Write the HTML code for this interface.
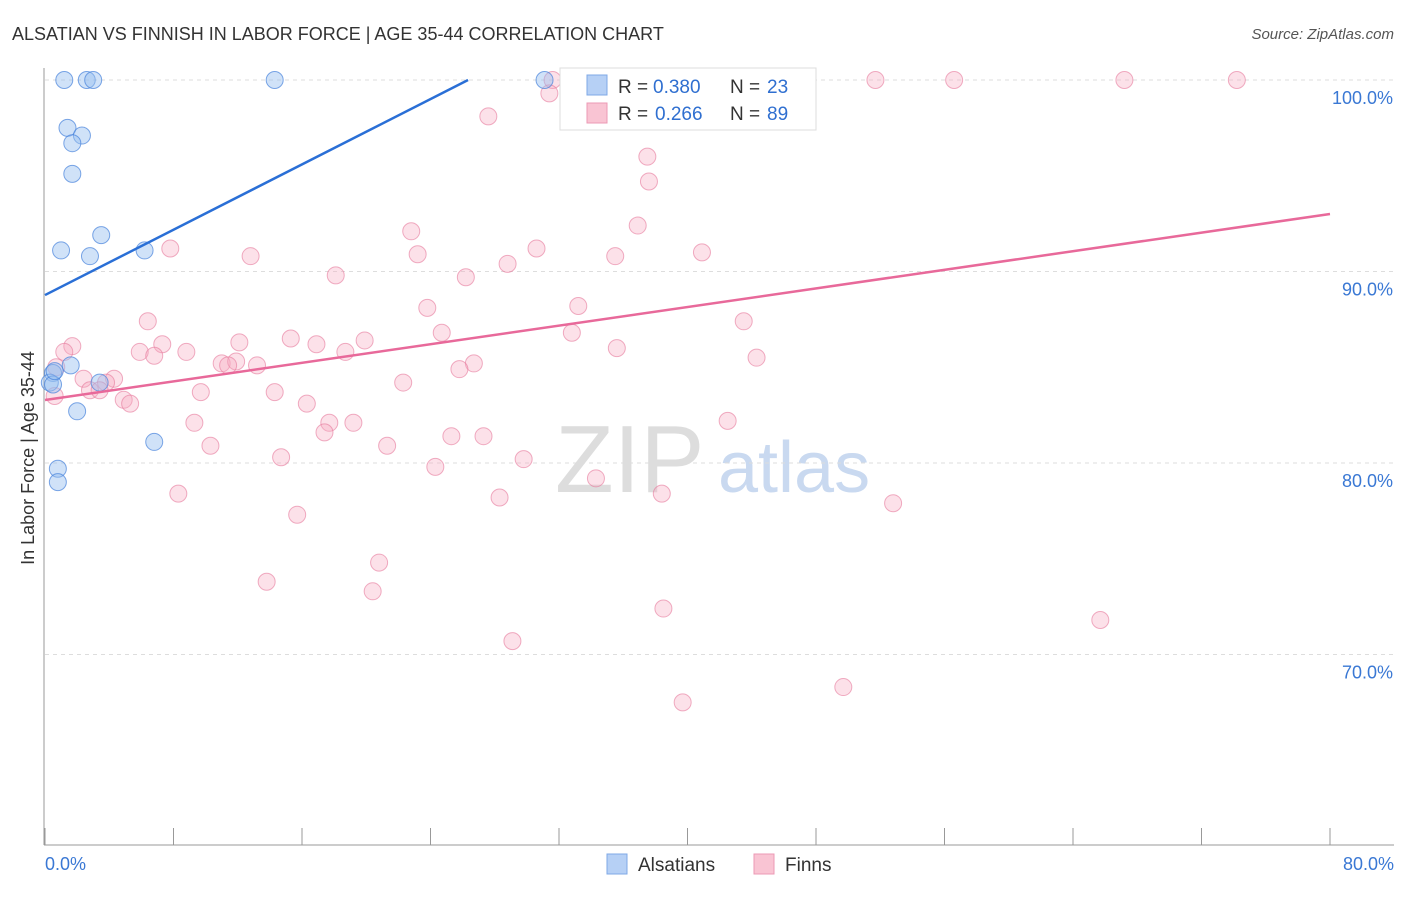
<!DOCTYPE html>
<html><head><meta charset="utf-8"><style>
body{margin:0;background:#fff;font-family:"Liberation Sans",sans-serif}
svg text{font-family:"Liberation Sans",sans-serif}
</style></head><body>
<svg id="c" width="1406" height="892">
<text x="12" y="40" font-size="18" fill="#333">ALSATIAN VS FINNISH IN LABOR FORCE | AGE 35-44 CORRELATION CHART</text>
<text x="1394" y="39" font-size="15" fill="#555" font-style="italic" text-anchor="end">Source: ZipAtlas.com</text>
<text x="34" y="458" font-size="18" fill="#333" text-anchor="middle" transform="rotate(-90 34 458)">In Labor Force | Age 35-44</text>
<text x="555" y="492" font-size="96" fill="#ddd" font-family="Liberation Serif,serif">ZIP</text>
<text x="718" y="492" font-size="72" fill="#c9d9f0">atlas</text>
<g id="grid"></g><g id="pts"></g><g id="lines"></g>
<g>
<rect x="560" y="68" width="256" height="62" fill="#fff" stroke="#ddd"/>
<rect x="587" y="75" width="20" height="20" fill="#b6d0f5" stroke="#7fa8e6"/>
<rect x="587" y="103" width="20" height="20" fill="#f9c4d3" stroke="#ec9ab4"/>
<text x="618" y="93" font-size="19" fill="#333">R =</text>
<text x="653" y="93" font-size="19" fill="#2f6fd0">0.380</text>
<text x="730" y="93" font-size="19" fill="#333">N =</text>
<text x="767" y="93" font-size="19" fill="#2f6fd0">23</text>
<text x="618" y="120" font-size="19" fill="#333">R =</text>
<text x="655" y="120" font-size="19" fill="#2f6fd0">0.266</text>
<text x="730" y="120" font-size="19" fill="#333">N =</text>
<text x="767" y="120" font-size="19" fill="#2f6fd0">89</text>
</g>
<g>
<rect x="607" y="854" width="20" height="20" fill="#b6d0f5" stroke="#7fa8e6"/>
<text x="638" y="871" font-size="19" fill="#333">Alsatians</text>
<rect x="754" y="854" width="20" height="20" fill="#f9c4d3" stroke="#ec9ab4"/>
<text x="785" y="871" font-size="19" fill="#333">Finns</text>
</g>
</svg>
<script>
const xTicks=[0,8,16,24,32,40,48,56,64,72,80];
const yTicks=[100,90,80,70];
const alsX=[1.2,2.6,3.0,14.3,31.1,1.4,2.3,1.7,1.7,3.5,1.0,2.8,6.2,1.6,0.5,0.3,0.5,3.4,2.0,6.8,0.8,0.8,0.6];
const alsY=[100,100,100,100,100,97.5,97.1,96.7,95.1,91.9,91.1,90.8,91.1,85.1,84.7,84.2,84.1,84.2,82.7,81.1,79.7,79.0,84.8];
const finX=[31.6,40.1,41.5,44.9,46.7,51.7,56.6,67.2,74.2,31.4,27.6,37.5,37.6,36.9,22.8,7.8,12.8,30.6,23.2,35.5,40.9,28.8,18.1,26.2,33.2,23.8,6.4,43.5,24.7,15.3,16.9,1.7,7.3,12.1,19.9,1.2,5.9,8.8,6.8,35.6,32.8,18.7,44.3,11.0,11.9,11.4,13.2,26.7,25.8,0.7,2.4,4.3,3.8,2.8,3.4,0.6,9.7,14.3,4.9,5.3,16.3,22.3,9.3,17.7,19.2,42.5,17.4,25.3,27.3,10.3,21.3,14.7,29.8,24.3,34.3,8.3,38.4,52.8,28.3,15.7,20.8,13.8,20.4,38.5,65.7,29.1,49.7,39.7];
const finY=[100,100,100,100,100,100,100,100,100,99.3,98.1,96.0,94.7,92.4,92.1,91.2,90.8,91.2,90.9,90.8,91.0,90.4,89.8,89.7,88.2,88.1,87.4,87.4,86.8,86.5,86.2,86.1,86.2,86.3,86.4,85.8,85.8,85.8,85.6,86.0,86.8,85.8,85.5,85.2,85.3,85.1,85.1,85.2,84.9,85.0,84.4,84.4,84.2,83.8,83.8,83.5,83.7,83.7,83.3,83.1,83.1,84.2,82.1,82.1,82.1,82.2,81.6,81.4,81.4,80.9,80.9,80.3,80.2,79.8,79.2,78.4,78.4,77.9,78.2,77.3,74.8,73.8,73.3,72.4,71.8,70.7,68.3,67.5];
const trendBlue=[88.77,0.4264];
const trendPink=[83.29,0.1214];
const X=v=>45+v/80*1285, Y=v=>80+(100-v)*19.15;
const NS='http://www.w3.org/2000/svg';
function mk(p,t,a){const e=document.createElementNS(NS,t);for(const k in a)e.setAttribute(k,a[k]);p.appendChild(e);return e;}
const g=document.getElementById('grid');
yTicks.forEach(v=>{
 const l=mk(g,'line',{x1:45,x2:1394,y1:Y(v),y2:Y(v),stroke:'#ddd','stroke-dasharray':'4 4'});
 
 
 const t=mk(g,'text',{x:1393,y:Y(v)+24,'font-size':18,fill:'#3a78d4','text-anchor':'end'});t.textContent=v.toFixed(1)+'%';
 
 
});
mk(g,'line',{x1:44,x2:44,y1:68,y2:845,stroke:'#999'});
mk(g,'line',{x1:44,x2:1394,y1:845,y2:845,stroke:'#999'});
xTicks.forEach(v=>{const l=mk(g,'line',{x1:X(v),x2:X(v),y1:828,y2:845,stroke:'#999'});
 
 });
[[0,'start',45],[80,'end',1394]].forEach(([v,a,x])=>{const t=mk(g,'text',{x:x,y:870,'font-size':18,fill:'#3a78d4','text-anchor':a});t.textContent=v.toFixed(1)+'%';
 
 });
const p=document.getElementById('pts');
finX.forEach((v,i)=>{const c=mk(p,'circle',{cx:X(v),cy:Y(finY[i]),r:8.5,fill:'rgba(245,168,192,0.35)',stroke:'rgba(230,120,155,0.6)'});
 
 });
alsX.forEach((v,i)=>{const c=mk(p,'circle',{cx:X(v),cy:Y(alsY[i]),r:8.5,fill:'rgba(150,190,240,0.45)',stroke:'rgba(70,130,220,0.7)'});
 
 });
const L=document.getElementById('lines');
const xe=(100-trendBlue[0])/trendBlue[1];
const b=mk(L,'line',{x1:X(0),y1:Y(trendBlue[0]),x2:X(xe),y2:Y(100),stroke:'#2a6fd6','stroke-width':2.5});


const q=mk(L,'line',{x1:X(0),y1:Y(trendPink[0]),x2:X(80),y2:Y(trendPink[0]+80*trendPink[1]),stroke:'#e8699a','stroke-width':2.5});


</script>
</body></html>
